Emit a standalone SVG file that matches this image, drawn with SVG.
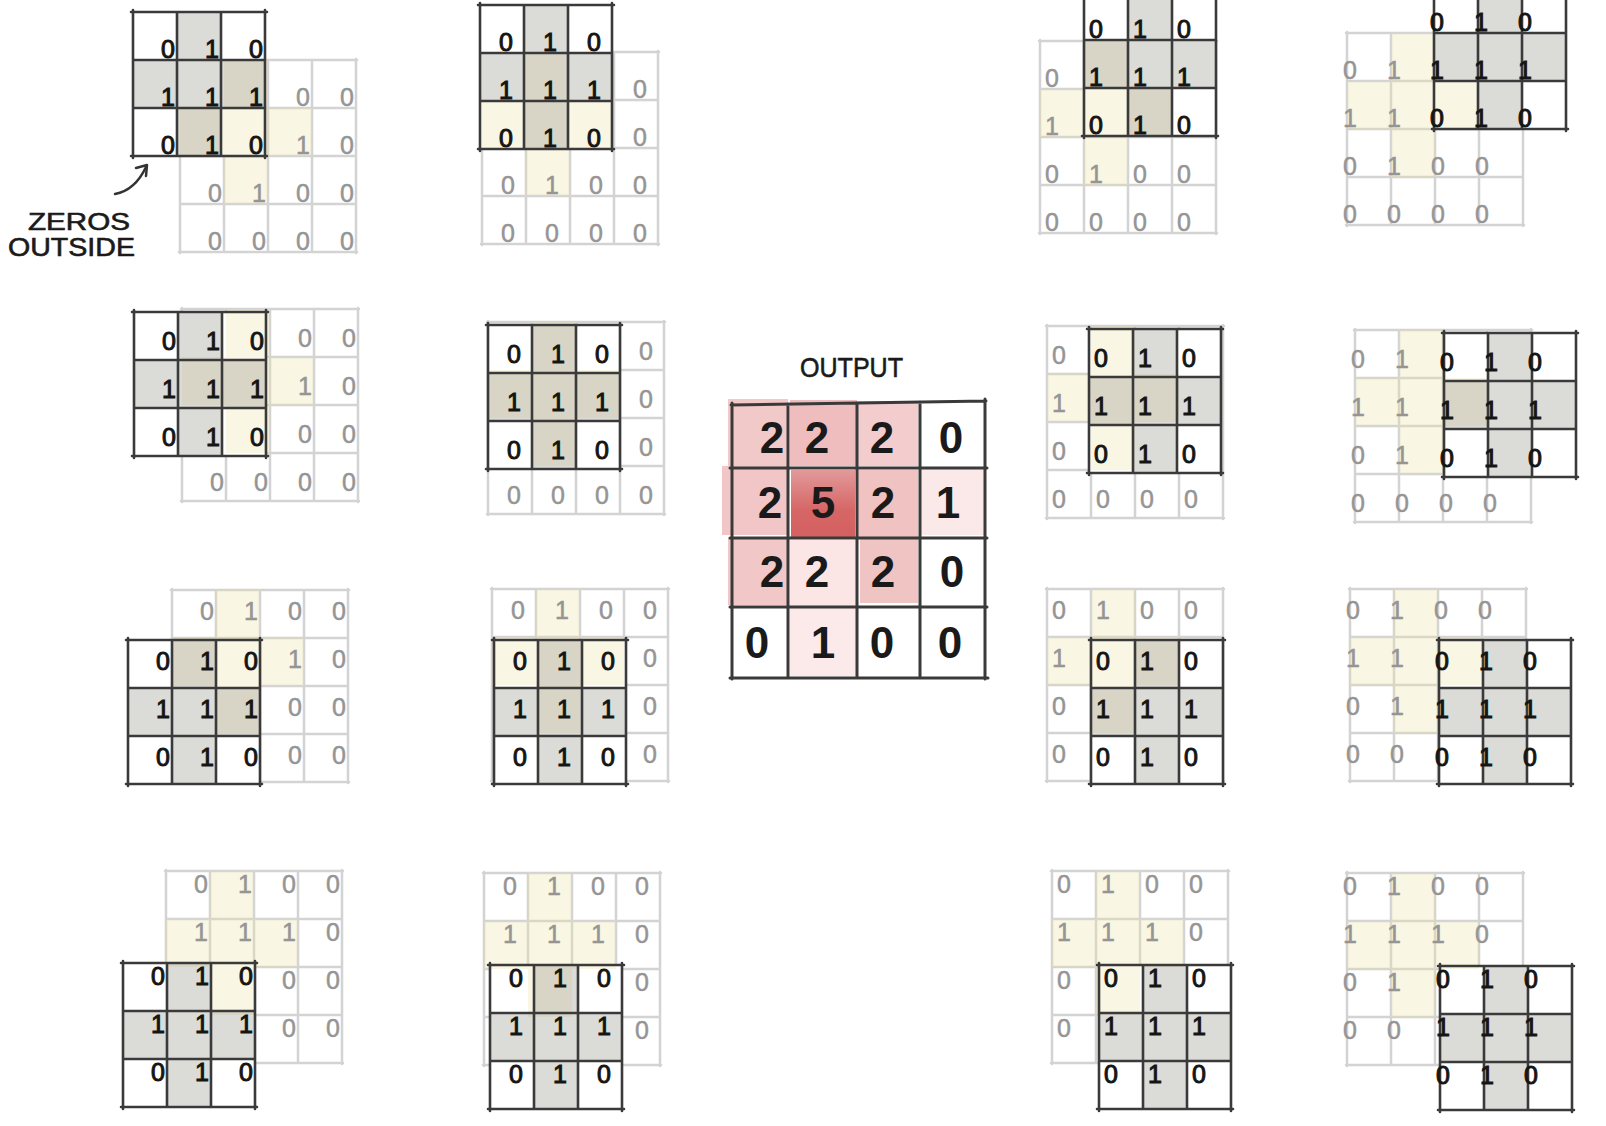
<svg xmlns="http://www.w3.org/2000/svg" width="1606" height="1126" viewBox="0 0 1606 1126">
<style>
.ig{fill:none;stroke:#d3d3d3;stroke-width:2.5;stroke-linecap:round}
.kl{fill:none;stroke:#3a3a3a;stroke-width:2.6;stroke-linecap:round}
.kw{fill:#fff}
.yl{fill:#f0e0a4;fill-opacity:0.3}
.gr{fill:#9a9a94;fill-opacity:0.36}
.di text{font-family:"Liberation Sans",Arial,sans-serif;font-size:25px;fill:#959595;stroke:#959595;stroke-width:0.5;text-anchor:middle}
.dk text{font-family:"Liberation Sans",Arial,sans-serif;font-size:25px;fill:#151515;stroke:#151515;stroke-width:1;text-anchor:middle}
.ol{fill:none;stroke:#3a3a3a;stroke-width:3;stroke-linecap:round}
.od text{font-family:"Liberation Sans",Arial,sans-serif;font-size:44px;font-weight:bold;fill:#1a1a1a;text-anchor:middle}
.lb{font-family:"Liberation Sans",Arial,sans-serif;fill:#1a1a1a;stroke:#1a1a1a;stroke-width:0.6}
.ar{fill:none;stroke:#333;stroke-width:2.5;stroke-linecap:round;stroke-linejoin:round}
</style>
<defs>
<path id="ig" class="ig" d="M-1,0H177M0,48H176M0,96H176M0,144H176M-1,192H177M0,-1V193M44,0V192M88,0V192M132,0V192M176,-1V193"/>
<rect id="kw" class="kw" x="0" y="0" width="132" height="144"/>
<path id="pl" d="M44,0H88V48H132V96H88V144H44V96H0V48H44Z"/>
<path id="kl" class="kl" d="M-2,0H134M0,48H132M0,96H132M-2,144H134M0,-2V146M44,0V144M88,0V144M132,-2V146"/>
<linearGradient id="g5" x1="0" y1="0" x2="0" y2="1"><stop offset="0" stop-color="#e29a9a"/><stop offset="0.6" stop-color="#d66666"/><stop offset="1" stop-color="#d46060"/></linearGradient>
</defs>
<rect width="1606" height="1126" fill="#fff"/>

<g id="panel-r0c0" transform="translate(180,60)">
<use href="#ig"/><use href="#kw" x="-47" y="-48"/><use href="#pl" class="yl"/>
<g class="di" transform="translate(35,37)"><text x="88" y="9">0</text><text x="132" y="9">0</text><text x="88" y="57">1</text><text x="132" y="57">0</text><text x="0" y="105">0</text><text x="44" y="105">1</text><text x="88" y="105">0</text><text x="132" y="105">0</text><text x="0" y="153">0</text><text x="44" y="153">0</text><text x="88" y="153">0</text><text x="132" y="153">0</text></g>
<use href="#pl" class="gr" x="-47" y="-48"/><use href="#kl" x="-47" y="-48"/>
<g class="dk" transform="translate(-12,-11)"><text x="0" y="9">0</text><text x="44" y="9">1</text><text x="88" y="9">0</text><text x="0" y="57">1</text><text x="44" y="57">1</text><text x="88" y="57">1</text><text x="0" y="105">0</text><text x="44" y="105">1</text><text x="88" y="105">0</text></g>
</g>

<g id="panel-r0c1" transform="translate(482,52)">
<use href="#ig"/><use href="#kw" x="-2" y="-47"/><use href="#pl" class="yl"/>
<g class="di" transform="translate(26,37)"><text x="132" y="9">0</text><text x="132" y="57">0</text><text x="0" y="105">0</text><text x="44" y="105">1</text><text x="88" y="105">0</text><text x="132" y="105">0</text><text x="0" y="153">0</text><text x="44" y="153">0</text><text x="88" y="153">0</text><text x="132" y="153">0</text></g>
<use href="#pl" class="gr" x="-2" y="-47"/><use href="#kl" x="-2" y="-47"/>
<g class="dk" transform="translate(24,-10)"><text x="0" y="9">0</text><text x="44" y="9">1</text><text x="88" y="9">0</text><text x="0" y="57">1</text><text x="44" y="57">1</text><text x="88" y="57">1</text><text x="0" y="105">0</text><text x="44" y="105">1</text><text x="88" y="105">0</text></g>
</g>

<g id="panel-r0c2" transform="translate(1040,41)">
<use href="#ig"/><use href="#kw" x="44" y="-49"/><use href="#pl" class="yl"/>
<g class="di" transform="translate(12,37)"><text x="0" y="9">0</text><text x="0" y="57">1</text><text x="0" y="105">0</text><text x="44" y="105">1</text><text x="88" y="105">0</text><text x="132" y="105">0</text><text x="0" y="153">0</text><text x="44" y="153">0</text><text x="88" y="153">0</text><text x="132" y="153">0</text></g>
<use href="#pl" class="gr" x="44" y="-49"/><use href="#kl" x="44" y="-49"/>
<g class="dk" transform="translate(56,-12)"><text x="0" y="9">0</text><text x="44" y="9">1</text><text x="88" y="9">0</text><text x="0" y="57">1</text><text x="44" y="57">1</text><text x="88" y="57">1</text><text x="0" y="105">0</text><text x="44" y="105">1</text><text x="88" y="105">0</text></g>
</g>

<g id="panel-r0c3" transform="translate(1347,33)">
<use href="#ig"/><use href="#kw" x="87" y="-48"/><use href="#pl" class="yl"/>
<g class="di" transform="translate(3,37)"><text x="0" y="9">0</text><text x="44" y="9">1</text><text x="0" y="57">1</text><text x="44" y="57">1</text><text x="0" y="105">0</text><text x="44" y="105">1</text><text x="88" y="105">0</text><text x="132" y="105">0</text><text x="0" y="153">0</text><text x="44" y="153">0</text><text x="88" y="153">0</text><text x="132" y="153">0</text></g>
<use href="#pl" class="gr" x="87" y="-48"/><use href="#kl" x="87" y="-48"/>
<g class="dk" transform="translate(90,-11)"><text x="0" y="9">0</text><text x="44" y="9">1</text><text x="88" y="9">0</text><text x="0" y="57">1</text><text x="44" y="57">1</text><text x="88" y="57">1</text><text x="0" y="105">0</text><text x="44" y="105">1</text><text x="88" y="105">0</text></g>
</g>

<g id="panel-r1c0" transform="translate(182,309)">
<use href="#ig"/><use href="#kw" x="-48" y="3"/><use href="#pl" class="yl"/>
<g class="di" transform="translate(35,29)"><text x="88" y="9">0</text><text x="132" y="9">0</text><text x="88" y="57">1</text><text x="132" y="57">0</text><text x="88" y="105">0</text><text x="132" y="105">0</text><text x="0" y="153">0</text><text x="44" y="153">0</text><text x="88" y="153">0</text><text x="132" y="153">0</text></g>
<use href="#pl" class="gr" x="-48" y="3"/><use href="#kl" x="-48" y="3"/>
<g class="dk" transform="translate(-13,32)"><text x="0" y="9">0</text><text x="44" y="9">1</text><text x="88" y="9">0</text><text x="0" y="57">1</text><text x="44" y="57">1</text><text x="88" y="57">1</text><text x="0" y="105">0</text><text x="44" y="105">1</text><text x="88" y="105">0</text></g>
</g>

<g id="panel-r1c1" transform="translate(488,322)">
<use href="#ig"/><use href="#kw" x="0" y="3"/><use href="#pl" class="yl"/>
<g class="di" transform="translate(26,29)"><text x="132" y="9">0</text><text x="132" y="57">0</text><text x="132" y="105">0</text><text x="0" y="153">0</text><text x="44" y="153">0</text><text x="88" y="153">0</text><text x="132" y="153">0</text></g>
<use href="#pl" class="gr" x="0" y="3"/><use href="#kl" x="0" y="3"/>
<g class="dk" transform="translate(26,32)"><text x="0" y="9">0</text><text x="44" y="9">1</text><text x="88" y="9">0</text><text x="0" y="57">1</text><text x="44" y="57">1</text><text x="88" y="57">1</text><text x="0" y="105">0</text><text x="44" y="105">1</text><text x="88" y="105">0</text></g>
</g>

<g id="panel-r1c2" transform="translate(1047,326)">
<use href="#ig"/><use href="#kw" x="42" y="3"/><use href="#pl" class="yl"/>
<g class="di" transform="translate(12,29)"><text x="0" y="9">0</text><text x="0" y="57">1</text><text x="0" y="105">0</text><text x="0" y="153">0</text><text x="44" y="153">0</text><text x="88" y="153">0</text><text x="132" y="153">0</text></g>
<use href="#pl" class="gr" x="42" y="3"/><use href="#kl" x="42" y="3"/>
<g class="dk" transform="translate(54,32)"><text x="0" y="9">0</text><text x="44" y="9">1</text><text x="88" y="9">0</text><text x="0" y="57">1</text><text x="44" y="57">1</text><text x="88" y="57">1</text><text x="0" y="105">0</text><text x="44" y="105">1</text><text x="88" y="105">0</text></g>
</g>

<g id="panel-r1c3" transform="translate(1355,330)">
<use href="#ig"/><use href="#kw" x="89" y="3"/><use href="#pl" class="yl"/>
<g class="di" transform="translate(3,29)"><text x="0" y="9">0</text><text x="44" y="9">1</text><text x="0" y="57">1</text><text x="44" y="57">1</text><text x="0" y="105">0</text><text x="44" y="105">1</text><text x="0" y="153">0</text><text x="44" y="153">0</text><text x="88" y="153">0</text><text x="132" y="153">0</text></g>
<use href="#pl" class="gr" x="89" y="3"/><use href="#kl" x="89" y="3"/>
<g class="dk" transform="translate(92,32)"><text x="0" y="9">0</text><text x="44" y="9">1</text><text x="88" y="9">0</text><text x="0" y="57">1</text><text x="44" y="57">1</text><text x="88" y="57">1</text><text x="0" y="105">0</text><text x="44" y="105">1</text><text x="88" y="105">0</text></g>
</g>

<g id="panel-r2c0" transform="translate(172,590)">
<use href="#ig"/><use href="#kw" x="-44" y="50"/><use href="#pl" class="yl"/>
<g class="di" transform="translate(35,21)"><text x="0" y="9">0</text><text x="44" y="9">1</text><text x="88" y="9">0</text><text x="132" y="9">0</text><text x="88" y="57">1</text><text x="132" y="57">0</text><text x="88" y="105">0</text><text x="132" y="105">0</text><text x="88" y="153">0</text><text x="132" y="153">0</text></g>
<use href="#pl" class="gr" x="-44" y="50"/><use href="#kl" x="-44" y="50"/>
<g class="dk" transform="translate(-9,71)"><text x="0" y="9">0</text><text x="44" y="9">1</text><text x="88" y="9">0</text><text x="0" y="57">1</text><text x="44" y="57">1</text><text x="88" y="57">1</text><text x="0" y="105">0</text><text x="44" y="105">1</text><text x="88" y="105">0</text></g>
</g>

<g id="panel-r2c1" transform="translate(492,589)">
<use href="#ig"/><use href="#kw" x="2" y="51"/><use href="#pl" class="yl"/>
<g class="di" transform="translate(26,21)"><text x="0" y="9">0</text><text x="44" y="9">1</text><text x="88" y="9">0</text><text x="132" y="9">0</text><text x="132" y="57">0</text><text x="132" y="105">0</text><text x="132" y="153">0</text></g>
<use href="#pl" class="gr" x="2" y="51"/><use href="#kl" x="2" y="51"/>
<g class="dk" transform="translate(28,72)"><text x="0" y="9">0</text><text x="44" y="9">1</text><text x="88" y="9">0</text><text x="0" y="57">1</text><text x="44" y="57">1</text><text x="88" y="57">1</text><text x="0" y="105">0</text><text x="44" y="105">1</text><text x="88" y="105">0</text></g>
</g>

<g id="panel-r2c2" transform="translate(1047,589)">
<use href="#ig"/><use href="#kw" x="44" y="51"/><use href="#pl" class="yl"/>
<g class="di" transform="translate(12,21)"><text x="0" y="9">0</text><text x="44" y="9">1</text><text x="88" y="9">0</text><text x="132" y="9">0</text><text x="0" y="57">1</text><text x="0" y="105">0</text><text x="0" y="153">0</text></g>
<use href="#pl" class="gr" x="44" y="51"/><use href="#kl" x="44" y="51"/>
<g class="dk" transform="translate(56,72)"><text x="0" y="9">0</text><text x="44" y="9">1</text><text x="88" y="9">0</text><text x="0" y="57">1</text><text x="44" y="57">1</text><text x="88" y="57">1</text><text x="0" y="105">0</text><text x="44" y="105">1</text><text x="88" y="105">0</text></g>
</g>

<g id="panel-r2c3" transform="translate(1350,589)">
<use href="#ig"/><use href="#kw" x="89" y="51"/><use href="#pl" class="yl"/>
<g class="di" transform="translate(3,21)"><text x="0" y="9">0</text><text x="44" y="9">1</text><text x="88" y="9">0</text><text x="132" y="9">0</text><text x="0" y="57">1</text><text x="44" y="57">1</text><text x="0" y="105">0</text><text x="44" y="105">1</text><text x="0" y="153">0</text><text x="44" y="153">0</text></g>
<use href="#pl" class="gr" x="89" y="51"/><use href="#kl" x="89" y="51"/>
<g class="dk" transform="translate(92,72)"><text x="0" y="9">0</text><text x="44" y="9">1</text><text x="88" y="9">0</text><text x="0" y="57">1</text><text x="44" y="57">1</text><text x="88" y="57">1</text><text x="0" y="105">0</text><text x="44" y="105">1</text><text x="88" y="105">0</text></g>
</g>

<g id="panel-r3c0" transform="translate(166,871)">
<use href="#ig"/><use href="#kw" x="-43" y="92"/><use href="#pl" class="yl"/>
<g class="di" transform="translate(35,13)"><text x="0" y="9">0</text><text x="44" y="9">1</text><text x="88" y="9">0</text><text x="132" y="9">0</text><text x="0" y="57">1</text><text x="44" y="57">1</text><text x="88" y="57">1</text><text x="132" y="57">0</text><text x="88" y="105">0</text><text x="132" y="105">0</text><text x="88" y="153">0</text><text x="132" y="153">0</text></g>
<use href="#pl" class="gr" x="-43" y="92"/><use href="#kl" x="-43" y="92"/>
<g class="dk" transform="translate(-8,105)"><text x="0" y="9">0</text><text x="44" y="9">1</text><text x="88" y="9">0</text><text x="0" y="57">1</text><text x="44" y="57">1</text><text x="88" y="57">1</text><text x="0" y="105">0</text><text x="44" y="105">1</text><text x="88" y="105">0</text></g>
</g>

<g id="panel-r3c1" transform="translate(484,873)">
<use href="#ig"/><use href="#kw" x="6" y="92"/><use href="#pl" class="yl"/>
<g class="di" transform="translate(26,13)"><text x="0" y="9">0</text><text x="44" y="9">1</text><text x="88" y="9">0</text><text x="132" y="9">0</text><text x="0" y="57">1</text><text x="44" y="57">1</text><text x="88" y="57">1</text><text x="132" y="57">0</text><text x="132" y="105">0</text><text x="132" y="153">0</text></g>
<use href="#pl" class="gr" x="6" y="92"/><use href="#kl" x="6" y="92"/>
<g class="dk" transform="translate(32,105)"><text x="0" y="9">0</text><text x="44" y="9">1</text><text x="88" y="9">0</text><text x="0" y="57">1</text><text x="44" y="57">1</text><text x="88" y="57">1</text><text x="0" y="105">0</text><text x="44" y="105">1</text><text x="88" y="105">0</text></g>
</g>

<g id="panel-r3c2" transform="translate(1052,871)">
<use href="#ig"/><use href="#kw" x="47" y="94"/><use href="#pl" class="yl"/>
<g class="di" transform="translate(12,13)"><text x="0" y="9">0</text><text x="44" y="9">1</text><text x="88" y="9">0</text><text x="132" y="9">0</text><text x="0" y="57">1</text><text x="44" y="57">1</text><text x="88" y="57">1</text><text x="132" y="57">0</text><text x="0" y="105">0</text><text x="0" y="153">0</text></g>
<use href="#pl" class="gr" x="47" y="94"/><use href="#kl" x="47" y="94"/>
<g class="dk" transform="translate(59,107)"><text x="0" y="9">0</text><text x="44" y="9">1</text><text x="88" y="9">0</text><text x="0" y="57">1</text><text x="44" y="57">1</text><text x="88" y="57">1</text><text x="0" y="105">0</text><text x="44" y="105">1</text><text x="88" y="105">0</text></g>
</g>

<g id="panel-r3c3" transform="translate(1347,873)">
<use href="#ig"/><use href="#kw" x="93" y="93"/><use href="#pl" class="yl"/>
<g class="di" transform="translate(3,13)"><text x="0" y="9">0</text><text x="44" y="9">1</text><text x="88" y="9">0</text><text x="132" y="9">0</text><text x="0" y="57">1</text><text x="44" y="57">1</text><text x="88" y="57">1</text><text x="132" y="57">0</text><text x="0" y="105">0</text><text x="44" y="105">1</text><text x="0" y="153">0</text><text x="44" y="153">0</text></g>
<use href="#pl" class="gr" x="93" y="93"/><use href="#kl" x="93" y="93"/>
<g class="dk" transform="translate(96,106)"><text x="0" y="9">0</text><text x="44" y="9">1</text><text x="88" y="9">0</text><text x="0" y="57">1</text><text x="44" y="57">1</text><text x="88" y="57">1</text><text x="0" y="105">0</text><text x="44" y="105">1</text><text x="88" y="105">0</text></g>
</g>

<g id="output">
<rect x="728" y="399" width="60" height="68" fill="#f2c9c9"/>
<rect x="790" y="400" width="67" height="66" fill="#efbdbd"/>
<rect x="858" y="401" width="60" height="65" fill="#f3cdcd"/>
<rect x="722" y="466" width="66" height="69" fill="#f2c6c6"/>
<rect x="791" y="470" width="64" height="67" fill="url(#g5)"/>
<rect x="858" y="470" width="60" height="68" fill="#f0c2c2"/>
<rect x="921" y="468" width="64" height="67" fill="#fbe9e9"/>
<rect x="728" y="538" width="60" height="67" fill="#f1c7c7"/>
<rect x="790" y="540" width="67" height="66" fill="#fbe5e5"/>
<rect x="860" y="538" width="58" height="65" fill="#f1c4c4"/>
<rect x="790" y="608" width="67" height="68" fill="#fce9e9"/>
<path class="ol" d="M731,405L986,401M730,468H987M730,538H987M730,607H987M730,678H988M732,403V679M788,404V678M857,403V678M920,402V678M985,399V679"/>
<g class="od">
<text x="772" y="453">2</text><text x="817" y="453">2</text><text x="882" y="453">2</text><text x="951" y="453">0</text>
<text x="770" y="518">2</text><text x="823" y="518">5</text><text x="883" y="518">2</text><text x="948" y="518">1</text>
<text x="772" y="587">2</text><text x="817" y="587">2</text><text x="883" y="587">2</text><text x="952" y="587">0</text>
<text x="757" y="658">0</text><text x="823" y="658">1</text><text x="882" y="658">0</text><text x="950" y="658">0</text>
</g>
</g>

<g id="label-output"><text class="lb" x="800" y="377" font-size="28" textLength="103" lengthAdjust="spacingAndGlyphs">OUTPUT</text></g>
<g id="label-zeros">
<text class="lb" x="28" y="230" font-size="24" textLength="102" lengthAdjust="spacingAndGlyphs">ZEROS</text>
<text class="lb" x="8" y="256" font-size="25" textLength="127" lengthAdjust="spacingAndGlyphs">OUTSIDE</text>
</g>

<g id="connectors">
<path class="ar" d="M115,194C126,192 138,184 146,167"/>
<path class="ar" d="M136,168L147,165L146,176"/>
</g>
</svg>
